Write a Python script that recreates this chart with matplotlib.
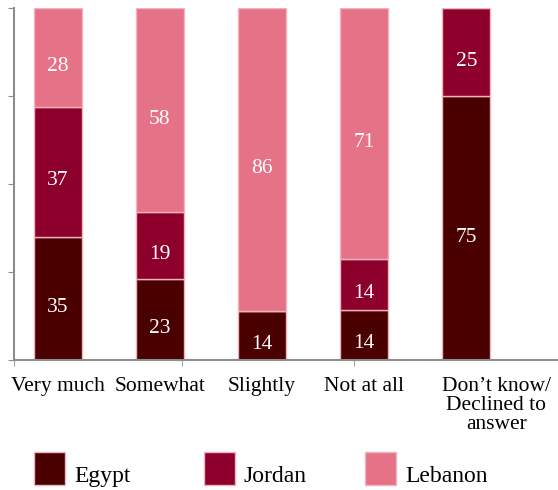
#!/usr/bin/env python3

import numpy as np
from matplotlib import pyplot as plt
from matplotlib.patches import Rectangle
from matplotlib.transforms import ScaledTranslation

categories = ['Very much', 'Somewhat', 'Slightly', 'Not at all',
			  'Don\u2019t know/\nDeclined to\nanswer']
series = ['Egypt', 'Jordan', 'Lebanon']
egypt = [35, 23, 14, 14.3, 75]
jordan = [37, 19, 0, 14.3, 25]
lebanon = [28, 58, 86, 71.4, 0]

colors = ['#4b0000', '#8e002c', '#e57286']
edge = '#f2b3bf'

plt.rcParams['font.family'] = ['Liberation Serif', 'DejaVu Serif']

fig = plt.figure(figsize=(5.58, 4.90), dpi=100)
ax = fig.add_axes([14/558, 130/490, 544/558, 352/490])

x = np.arange(len(categories))
bottom = np.zeros(len(categories))
for name, vals, col in zip(series, [egypt, jordan, lebanon], colors):
	vals = np.array(vals, dtype=float)
	ax.bar(x, vals, width=0.47, bottom=bottom, color=col,
		   edgecolor=edge, linewidth=1.0, label=name)
	for xi, b, v in zip(x, bottom, vals):
		if v > 0:
			ax.annotate(f'{v:.0f}', (xi, b + v/2), xytext=(0, -9),
						textcoords='offset pixels', ha='center', va='center',
						color='white', fontsize=15.5)
	bottom += vals

ax.set_xlim(-0.426, 4.897)
ax.set_ylim(0, 100)

for side in ['top', 'right']:
	ax.spines[side].set_visible(False)
for side in ['left', 'bottom']:
	ax.spines[side].set_color('#8c8c8c')
	ax.spines[side].set_linewidth(1.5)

ax.set_yticks([0, 25, 50, 75, 100])
ax.set_yticklabels([])
ax.tick_params(axis='y', length=4, color='#8c8c8c', direction='out')

ax.set_xticks(x)
ax.set_xticklabels(categories, fontsize=15.5, linespacing=1.02, va='top')
ax.tick_params(axis='x', which='major', length=0, pad=12)
ax.set_xticks([-0.426, 1.218, 2.90], minor=True)
ax.tick_params(axis='x', which='minor', length=4, color='#8c8c8c')
# last label sits a little right of its bar
last = ax.get_xticklabels()[-1]
last.set_transform(last.get_transform() + ScaledTranslation(0.30, 0, fig.dpi_scale_trans))

# legend drawn by hand to match the boxes under the chart
leg_x = [34, 204, 365]
for lx, name, col in zip(leg_x, series, colors):
	fig.patches.append(Rectangle((lx/558, 5/490), 31/558, 33/490,
								 transform=fig.transFigure, facecolor=col,
								 edgecolor=edge, linewidth=1.0))
	fig.text((lx + 40)/558, 8/490, name, fontsize=17, va='baseline')

plt.savefig('out.png', dpi=100)
plt.close()
